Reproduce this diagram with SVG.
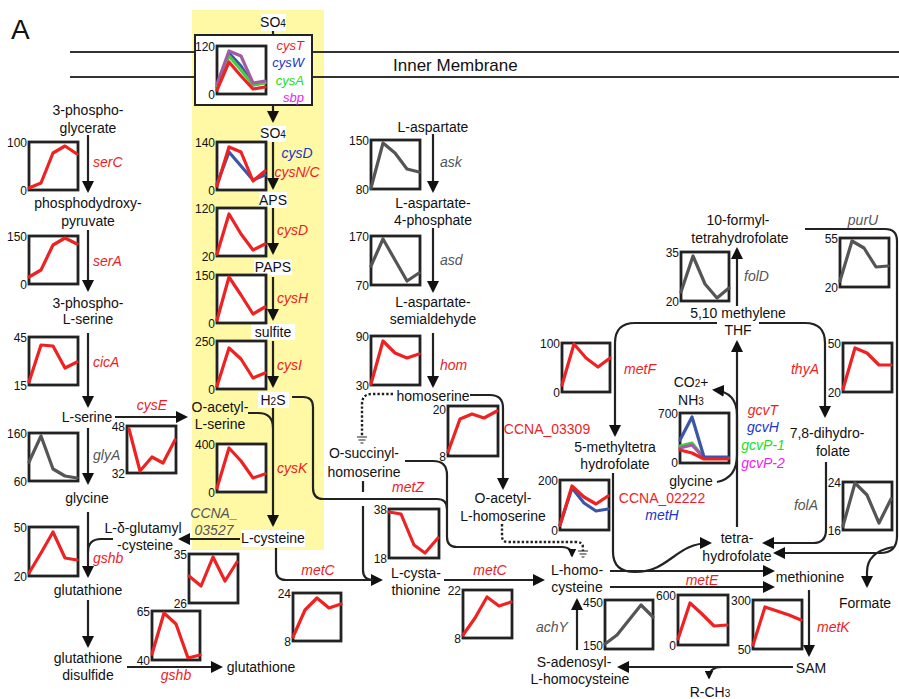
<svg xmlns="http://www.w3.org/2000/svg" width="899" height="699" viewBox="0 0 899 699">
<style>
text{font-family:"Liberation Sans",Arial,sans-serif;font-size:14px;fill:#111}
.m{text-anchor:middle}
.e{text-anchor:end}
.g{font-style:italic}
.gr{fill:#EE1C25}.gb{fill:#2233CC}.gg{fill:#22DD22}.gm{fill:#EE22EE}.gk{fill:#555}
.n{font-size:12px;text-anchor:end}
.cb{fill:#fff;stroke:#222;stroke-width:2.8}
.d{fill:none;stroke-width:3.2;stroke-linejoin:round;stroke-linecap:round}
.r{stroke:#EE2222}.k{stroke:#555}.b{stroke:#3B55A8}.gn{stroke:#44CC44}.p{stroke:#A25BA5}
.ln{fill:none;stroke:#222;stroke-width:2.2}
.a{marker-end:url(#ah)}
.as{marker-end:url(#ahs)}
.ds{fill:none;stroke:#222;stroke-width:2.4;stroke-dasharray:2.4 2}
.wb{fill:#fff}
.gnd{stroke:#222;stroke-width:1.2}
.sm{font-size:13px}
</style>
<defs>
<marker id="ah" viewBox="0 0 12 12" refX="10" refY="6" markerWidth="12" markerHeight="12" markerUnits="userSpaceOnUse" orient="auto"><path d="M0,0 L12,6 L0,12 z" fill="#111"/></marker>
<marker id="ahs" viewBox="0 0 12 12" refX="10" refY="6" markerWidth="9" markerHeight="9" markerUnits="userSpaceOnUse" orient="auto"><path d="M0,0 L12,6 L0,12 z" fill="#111"/></marker>
</defs>
<rect width="899" height="699" fill="#fff"/>
<rect x="192" y="10" width="132" height="540" fill="#FFF9A6"/>
<text x="11" y="39" style="font-size:28px">A</text>
<g id="membrane">
<path d="M70,52 H195 M312,52 H899 M70,77 H195 M312,77 H899" stroke="#333" stroke-width="2" fill="none"/>
<text x="393" y="71" style="font-size:17px">Inner Membrane</text>
</g>

<g id="connectors">
<path class="ln a" d="M88,135 L88,191"/>
<path class="ln a" d="M88,230 L88,290"/>
<path class="ln a" d="M88,333 L88,406"/>
<path class="ln a" d="M115,417 L186,417"/>
<path class="ln a" d="M88,428 L88,483"/>
<path class="ln a" d="M88,512 L88,576"/>
<path class="ln" d="M113,539 L101,539 Q88,539 88,552"/>
<path class="ln a" d="M88,600 L88,646"/>
<path class="ln a" d="M127,667 L221,667"/>
<path class="ln a" d="M240,539 L180,539"/>
<path class="ln" d="M273,30 L273,35"/>
<path class="ln a" d="M273,105 L273,121"/>
<path class="ln a" d="M273,140 L273,188"/>
<path class="ln a" d="M273,208 L273,253"/>
<path class="ln a" d="M273,277 L273,319"/>
<path class="ln a" d="M273,341 L273,386"/>
<path class="ln a" d="M273,408 L273,525"/>
<path class="ln" d="M248,413 L258,413 Q273,413 273,428"/>
<path class="ln" d="M292,397 L303,397 Q313,397 313,407 L313,488 Q313,499 323,499 L437,499 Q447,499 447,509"/>
<path class="ln as" d="M405,461 L433,461 Q447,461 447,475 L447,537 Q447,547 457,547 L562,547 Q572,547 572,556"/>
<path class="ln a" d="M276,548 L276,570 Q276,580 286,580 L381,580"/>
<path class="ln" d="M363,481 L363,492 M363,506 L363,570 Q363,580 373,580"/>
<path class="ln a" d="M433,134 L433,191"/>
<path class="ln a" d="M433,228 L433,291"/>
<path class="ln a" d="M433,333 L433,386"/>
<path class="ln a" d="M470,395 L490,395 Q503,395 503,408 L503,488"/>
<path class="ln a" d="M444,580 L543,580"/>
<path class="ds" d="M393,394 L372,394 Q362,394 362,404 L362,436"/>
<path class="gnd" d="M357,437 H367 M358.5,440 H365.5 M360.5,443 H363.5"/>
<path class="ds" d="M502,524 L502,536 Q502,542 508,542 L576,542 Q583,542 583,548 L583,551"/>
<path class="gnd" d="M578,551 H588 M579.5,554 H586.5 M581.5,557 H584.5"/>
<path class="ln a" d="M717,323 L635,323 Q615,323 615,343 L615,435"/>
<path class="ln a" d="M759,323 L805,323 Q825,323 825,343 L825,416"/>
<path class="ln a" d="M737,306 L737,249"/>
<path class="ln a" d="M737,527 L737,342"/>
<path class="ln a" d="M717,482 Q737,478 737,455 L737,415 Q737,392 714,390"/>
<path class="ln a" d="M826,462 L826,530 Q826,543 813,543 L764,543"/>
<path class="ln a" d="M613,473 L613,552 Q613,572 635,572 C670,572 675,543 710,543"/>
<path class="ln a" d="M610,571 L773,571"/>
<path class="ln a" d="M610,587 L773,587"/>
<path class="ln a" d="M805,229 L885,229 Q897,229 897,241 L897,536 Q897,553 880,553 L775,553"/>
<path class="ln a" d="M893,547 Q867,552 867,572 L867,586"/>
<path class="ln a" d="M809,590 L809,655"/>
<path class="ln a" d="M793,667 L619,667"/>
<path class="ln as" d="M722,667 Q709,667 709,678"/>
<path class="ln a" d="M577,650 L577,600"/>
</g>

<g id="node-sulfate-transport">
<rect x="195" y="35" width="117" height="70" fill="#fff" stroke="#222" stroke-width="2"/>
<g transform="translate(217,46)"><rect class="cb" width="49" height="48"/>
<polyline class="d b" points="0,41 12,7 24,20 36,39 48,36"/>
<polyline class="d gn" points="0,40 12,10 24,24 36,39 48,37"/>
<polyline class="d p" points="0,38 12,5 24,10 36,37 48,35"/>
<polyline class="d r" points="0,44 12,16 24,30 36,43 48,41"/>
<text class="n" x="-2" y="5">120</text><text class="n" x="-2" y="53">0</text></g>
<text class="e g gr sm" x="304" y="50">cysT</text>
<text class="e g gb sm" x="304" y="67">cysW</text>
<text class="e g gg sm" x="304" y="85">cysA</text>
<text class="e g gm sm" x="304" y="102">sbp</text>
</g>

<g id="node-so4-out"><rect class="wb" x="261" y="14" width="25" height="17"/><text class="m" x="273" y="27">SO<tspan style="font-size:10px">4</tspan></text></g>
<g id="node-so4-in"><rect class="wb" x="261" y="126" width="25" height="16"/><text class="m" x="273" y="138">SO<tspan style="font-size:10px">4</tspan></text></g>
<g id="node-aps"><rect class="wb" x="259" y="192" width="28" height="16"/><text class="m" x="273" y="205">APS</text></g>
<g id="node-paps"><rect class="wb" x="254" y="259" width="38" height="16"/><text class="m" x="273" y="272">PAPS</text></g>
<g id="node-sulfite"><rect class="wb" x="251" y="324" width="44" height="16"/><text class="m" x="273" y="337">sulfite</text></g>
<g id="node-h2s"><rect class="wb" x="258" y="392" width="31" height="16"/><text class="m" x="273" y="405">H<tspan style="font-size:10px">2</tspan>S</text></g>
<g id="node-oas"><text class="m" x="220" y="412">O-acetyl-</text><text class="m" x="220" y="429">L-serine</text></g>
<g id="node-lcys"><rect class="wb" x="241" y="530" width="64" height="17"/><text class="m" x="273" y="543">L-cysteine</text></g>
<g id="genes-sulfur">
<text class="m g gb" x="297" y="158">cysD</text>
<text class="m g gr" x="297" y="177">cysN/C</text>
<text class="g gr" x="277" y="235">cysD</text>
<text class="g gr" x="277" y="303">cysH</text>
<text class="g gr" x="277" y="370">cysI</text>
<text class="g gr" x="277" y="473">cysK</text>
<text class="m g gk" x="214" y="518">CCNA_</text>
<text class="m g gk" x="214" y="535">03527</text>
</g>

<g id="node-3pg"><text class="m" x="88" y="115">3-phospho-</text><text class="m" x="88" y="133">glycerate</text></g>
<g id="node-php"><text class="m" x="88" y="208">phosphodydroxy-</text><text class="m" x="88" y="226">pyruvate</text></g>
<g id="node-3ps"><text class="m" x="88" y="308">3-phospho-</text><text class="m" x="88" y="324">L-serine</text></g>
<g id="node-lser"><text class="m" x="87" y="422">L-serine</text></g>
<g id="node-gly"><text class="m" x="87" y="503">glycine</text></g>
<g id="node-glucys"><text class="m" x="143" y="533">L-δ-glutamyl</text><text class="m" x="145" y="550">-cysteine</text></g>
<g id="node-gsh"><text class="m" x="88" y="595">glutathione</text></g>
<g id="node-gssg"><text class="m" x="88" y="663">glutathione</text><text class="m" x="88" y="680">disulfide</text></g>
<g id="node-gsh2"><text class="m" x="261" y="672">glutathione</text></g>
<g id="genes-left">
<text class="g gr" x="93" y="167">serC</text>
<text class="g gr" x="93" y="266">serA</text>
<text class="g gr" x="93" y="367">cicA</text>
<text class="g gk" x="93" y="460">glyA</text>
<text class="g gr" x="93" y="563">gshb</text>
<text class="m g gr" x="152" y="410">cysE</text>
<text class="m g gr" x="176" y="680">gshb</text>
</g>

<g id="node-asp"><text class="m" x="433" y="132">L-aspartate</text></g>
<g id="node-asp4p"><text class="m" x="433" y="208">L-aspartate-</text><text class="m" x="433" y="225">4-phosphate</text></g>
<g id="node-asa"><text class="m" x="433" y="307">L-aspartate-</text><text class="m" x="433" y="324">semialdehyde</text></g>
<g id="node-hser"><text class="m" x="433" y="401">homoserine</text></g>
<g id="node-osh"><text class="m" x="364" y="458">O-succinyl-</text><text class="m" x="364" y="477">homoserine</text></g>
<g id="node-oah"><text class="m" x="503" y="503">O-acetyl-</text><text class="m" x="503" y="521">L-homoserine</text></g>
<g id="node-cysta"><text class="m" x="416" y="578">L-cysta-</text><text class="m" x="416" y="595">thionine</text></g>
<g id="node-hcys"><text class="m" x="577" y="575">L-homo-</text><text class="m" x="577" y="592">cysteine</text></g>
<g id="node-met"><text class="m" x="810" y="582">methionine</text></g>
<g id="node-sam"><text class="m" x="811" y="673">SAM</text></g>
<g id="node-rch3"><text class="m" x="710" y="697">R-CH<tspan style="font-size:10px">3</tspan></text></g>
<g id="node-sah"><text class="m" x="574" y="667">S-adenosyl-</text><text class="m" x="580" y="684">L-homocysteine</text></g>
<g id="node-formate"><text class="m" x="865" y="608">Formate</text></g>
<g id="node-fthf"><text class="m" x="738" y="225">10-formyl-</text><text class="m" x="740" y="243">tetrahydrofolate</text></g>
<g id="node-mthf"><text class="m" x="738" y="318">5,10 methylene</text><text class="m" x="738" y="335">THF</text></g>
<g id="node-co2"><text class="m" x="691" y="387">CO<tspan style="font-size:10px">2</tspan>+</text><text class="m" x="691" y="405">NH<tspan style="font-size:10px">3</tspan></text></g>
<g id="node-gly2"><text class="m" x="691" y="486">glycine</text></g>
<g id="node-5mthf"><text class="m" x="615" y="452">5-methyltetra</text><text class="m" x="615" y="469">hydrofolate</text></g>
<g id="node-dhf"><text class="m" x="827" y="438">7,8-dihydro-</text><text class="m" x="833" y="456">folate</text></g>
<g id="node-thf"><text class="m" x="737" y="543">tetra-</text><text class="m" x="737" y="561">hydrofolate</text></g>
<g id="genes-right">
<text class="g gk" x="440" y="167">ask</text>
<text class="g gk" x="440" y="265">asd</text>
<text class="g gr" x="440" y="370">hom</text>
<text class="m gr" x="547" y="434">CCNA_03309</text>
<text class="m g gr" x="408" y="492">metZ</text>
<text class="m g gr" x="318" y="575">metC</text>
<text class="m g gr" x="490" y="575">metC</text>
<text class="m g gr" x="702" y="585">metE</text>
<text class="g gr" x="817" y="632">metK</text>
<text class="m g gk" x="552" y="632">achY</text>
<text class="g gk" x="744" y="281">folD</text>
<text class="m g gk" x="863" y="225">purU</text>
<text class="m g gr" x="640" y="374">metF</text>
<text class="m g gr" x="805" y="374">thyA</text>
<text class="m g gr" x="763" y="415">gcvT</text>
<text class="m g gb" x="763" y="432">gcvH</text>
<text class="m g gg" x="763" y="450">gcvP-1</text>
<text class="m g gm" x="763" y="468">gcvP-2</text>
<text class="m gr" x="662" y="503">CCNA_02222</text>
<text class="m g gb" x="662" y="520">metH</text>
<text class="m g gk" x="806" y="510">folA</text>
</g>

<g id="charts">
<g id="ch-cysDN" transform="translate(217,142)"><rect class="cb" width="49" height="48"/><polyline class="d b" points="0,42 12,10 24,24 36,38 48,33"/><polyline class="d r" points="0,44 12,5 24,10 36,39 48,29"/><text class="n" x="-2" y="5">140</text><text class="n" x="-2" y="53">0</text></g>
<g id="ch-cysD" transform="translate(217,208)"><rect class="cb" width="49" height="48"/><polyline class="d r" points="0,46 12,6 24,26 36,42 48,36"/><text class="n" x="-2" y="5">120</text><text class="n" x="-2" y="53">20</text></g>
<g id="ch-cysH" transform="translate(217,275)"><rect class="cb" width="49" height="48"/><polyline class="d r" points="0,45 12,2 24,20 36,39 48,32"/><text class="n" x="-2" y="5">150</text><text class="n" x="-2" y="53">0</text></g>
<g id="ch-cysI" transform="translate(217,341)"><rect class="cb" width="49" height="48"/><polyline class="d r" points="0,45 12,7 24,18 36,37 48,32"/><text class="n" x="-2" y="5">250</text><text class="n" x="-2" y="53">0</text></g>
<g id="ch-cysK" transform="translate(217,444)"><rect class="cb" width="49" height="48"/><polyline class="d r" points="0,44 12,4 24,17 36,34 48,30"/><text class="n" x="-2" y="5">400</text><text class="n" x="-2" y="53">0</text></g>
<g id="ch-serC" transform="translate(29,142)"><rect class="cb" width="49" height="48"/><polyline class="d r" points="0,46 12,41 24,11 36,4 48,12"/><text class="n" x="-2" y="5">100</text><text class="n" x="-2" y="53">0</text></g>
<g id="ch-serA" transform="translate(29,236)"><rect class="cb" width="49" height="48"/><polyline class="d r" points="0,41 12,34 24,9 36,2 48,8"/><text class="n" x="-2" y="5">150</text><text class="n" x="-2" y="53">0</text></g>
<g id="ch-cicA" transform="translate(29,337)"><rect class="cb" width="49" height="48"/><polyline class="d r" points="0,45 12,8 24,9 36,31 48,25"/><text class="n" x="-2" y="5">45</text><text class="n" x="-2" y="53">15</text></g>
<g id="ch-glyA" transform="translate(29,433)"><rect class="cb" width="49" height="48"/><polyline class="d k" points="0,29 12,3 24,36 36,43 48,45"/><text class="n" x="-2" y="5">160</text><text class="n" x="-2" y="53">60</text></g>
<g id="ch-cysE" transform="translate(127,426)"><rect class="cb" width="49" height="47"/><polyline class="d r" points="2,3 13,45 25,31 36,37 48,14"/><text class="n" x="-2" y="5">48</text><text class="n" x="-2" y="52">32</text></g>
<g id="ch-gshb" transform="translate(29,527)"><rect class="cb" width="49" height="49"/><polyline class="d r" points="0,46 12,26 24,5 36,31 48,33"/><text class="n" x="-2" y="5">50</text><text class="n" x="-2" y="54">20</text></g>
<g id="ch-03527" transform="translate(189,554)"><rect class="cb" width="49" height="49"/><polyline class="d r" points="0,22 12,32 24,3 36,27 48,8"/><text class="n" x="-2" y="5">35</text><text class="n" x="-2" y="54">26</text></g>
<g id="ch-gshb2" transform="translate(152,611)"><rect class="cb" width="48" height="49"/><polyline class="d r" points="0,43 12,2 24,13 36,47 48,44"/><text class="n" x="-2" y="5">65</text><text class="n" x="-2" y="54">40</text></g>
<g id="ch-metC1" transform="translate(293,593)"><rect class="cb" width="48" height="48"/><polyline class="d r" points="0,44 12,17 24,5 36,15 48,11"/><text class="n" x="-2" y="5">24</text><text class="n" x="-2" y="53">8</text></g>
<g id="ch-metZ" transform="translate(389,509)"><rect class="cb" width="50" height="49"/><polyline class="d r" points="0,3 12,5 25,36 36,44 49,29"/><text class="n" x="-2" y="5">38</text><text class="n" x="-2" y="54">18</text></g>
<g id="ch-metC2" transform="translate(463,590)"><rect class="cb" width="49" height="48"/><polyline class="d r" points="0,45 12,28 24,7 36,16 48,12"/><text class="n" x="-2" y="5">22</text><text class="n" x="-2" y="53">8</text></g>
<g id="ch-03309" transform="translate(448,406)"><rect class="cb" width="50" height="50"/><polyline class="d r" points="0,46 12,13 24,8 36,12 49,5"/><text class="n" x="-2" y="8">20</text><text class="n" x="-2" y="55">8</text></g>
<g id="ch-ask" transform="translate(371,140)"><rect class="cb" width="49" height="49"/><polyline class="d k" points="0,48 12,3 24,13 36,29 48,32"/><text class="n" x="-2" y="5">150</text><text class="n" x="-2" y="54">80</text></g>
<g id="ch-asd" transform="translate(371,236)"><rect class="cb" width="49" height="49"/><polyline class="d k" points="0,30 12,3 24,24 36,45 48,37"/><text class="n" x="-2" y="5">170</text><text class="n" x="-2" y="54">70</text></g>
<g id="ch-hom" transform="translate(371,336)"><rect class="cb" width="49" height="49"/><polyline class="d r" points="0,48 12,5 24,17 36,22 48,18"/><text class="n" x="-2" y="5">90</text><text class="n" x="-2" y="54">30</text></g>
<g id="ch-folD" transform="translate(681,252)"><rect class="cb" width="48" height="49"/><polyline class="d k" points="0,40 12,4 24,32 36,46 48,36"/><text class="n" x="-2" y="5">35</text><text class="n" x="-2" y="54">20</text></g>
<g id="ch-purU" transform="translate(840,238)"><rect class="cb" width="49" height="49"/><polyline class="d k" points="0,43 12,3 24,10 36,29 48,28"/><text class="n" x="-2" y="5">55</text><text class="n" x="-2" y="54">20</text></g>
<g id="ch-metF" transform="translate(562,343)"><rect class="cb" width="48" height="49"/><polyline class="d r" points="0,42 12,1 24,15 36,24 48,15"/><text class="n" x="-2" y="5">100</text><text class="n" x="-2" y="54">0</text></g>
<g id="ch-thyA" transform="translate(843,343)"><rect class="cb" width="49" height="49"/><polyline class="d r" points="0,46 12,5 24,10 36,22 48,22"/><text class="n" x="-2" y="5">50</text><text class="n" x="-2" y="54">20</text></g>
<g id="ch-gcv" transform="translate(680,413)"><rect class="cb" width="49" height="50"/><polyline class="d gn" points="0,33 12,30 24,45 36,45 48,45"/><polyline class="d p" points="0,35 12,32 24,45 36,45 48,45"/><polyline class="d b" points="0,27 12,4 24,44 36,44 48,44"/><polyline class="d r" points="0,37 12,40 24,46 36,46 48,46"/><text class="n" x="-2" y="5">700</text><text class="n" x="-2" y="54">0</text></g>
<g id="ch-metH" transform="translate(560,480)"><rect class="cb" width="49" height="50"/><polyline class="d b" points="0,45 12,8 24,23 36,31 48,29"/><polyline class="d r" points="0,45 12,6 24,17 36,24 48,16"/><text class="n" x="-2" y="5">200</text><text class="n" x="-2" y="55">0</text></g>
<g id="ch-folA" transform="translate(843,482)"><rect class="cb" width="49" height="48"/><polyline class="d k" points="0,44 12,1 24,13 36,41 48,17"/><text class="n" x="-2" y="5">24</text><text class="n" x="-2" y="53">16</text></g>
<g id="ch-achY" transform="translate(605,600)"><rect class="cb" width="48" height="49"/><polyline class="d k" points="0,44 12,35 24,20 36,5 48,17"/><text class="n" x="-2" y="7">450</text><text class="n" x="-2" y="50">150</text></g>
<g id="ch-metE" transform="translate(678,595)"><rect class="cb" width="50" height="50"/><polyline class="d r" points="0,44 12,8 24,19 36,31 49,30"/><text class="n" x="-2" y="5">600</text><text class="n" x="-2" y="55">0</text></g>
<g id="ch-metK" transform="translate(753,600)"><rect class="cb" width="49" height="49"/><polyline class="d r" points="0,45 12,7 24,11 36,15 48,20"/><text class="n" x="-2" y="5">300</text><text class="n" x="-2" y="54">50</text></g>
</g>
</svg>
